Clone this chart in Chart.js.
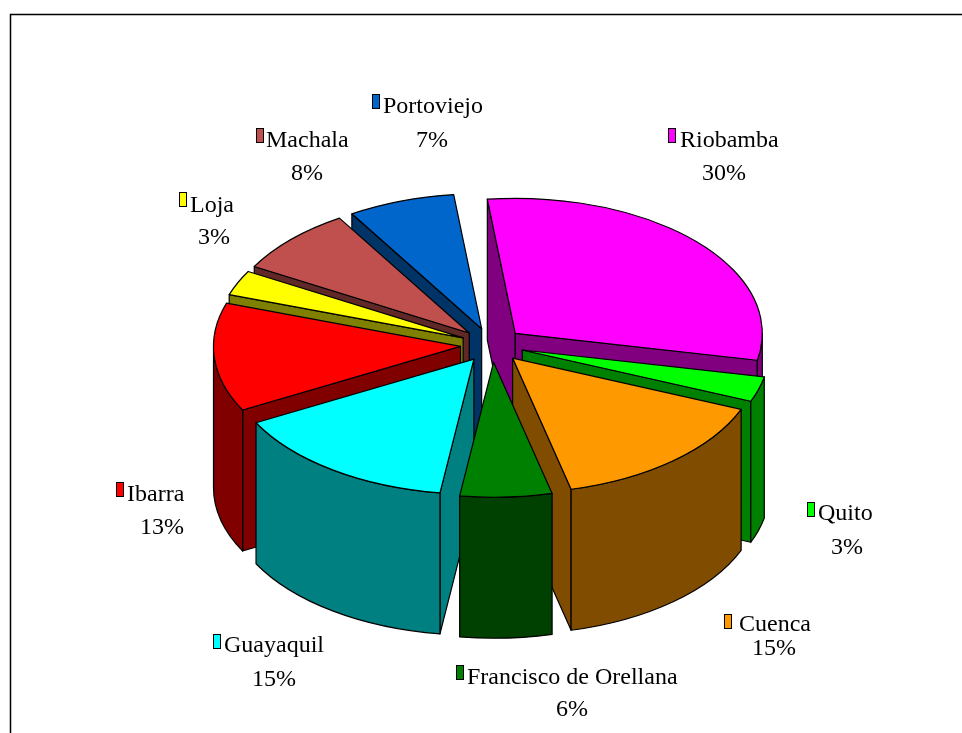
<!DOCTYPE html>
<html><head><meta charset="utf-8">
<style>html,body{margin:0;padding:0;background:#fff}canvas{display:block}</style>
<script src="https://cdn.jsdelivr.net/npm/chart.js@4"></script>
</head><body><canvas id="c" width="962" height="733"></canvas>
<script>
const categories = ["Riobamba","Quito","Cuenca","Francisco de Orellana","Guayaquil","Ibarra","Loja","Machala","Portoviejo"];
const values = [30,3,15,6,15,13,3,8,7];
const topColors = ["#FF00FF","#00FF00","#FF9900","#008000","#00FFFF","#FF0000","#FFFF00","#C0504D","#0066CC"];
const sideColors = ["#800080","#008000","#804C00","#004000","#008080","#800000","#808000","#602826","#003366"];

// label layout: key-left x, key-top y, text x, name baseline, percent centre x, percent baseline
const labelLayout = [
  [668,128,680,147,724,180],
  [807,502,818,520,847,554],
  [724,614,739,631,774,655],
  [456,665,467,684,572,716],
  [213,634,224,652,274,686],
  [116,482,127,501,162,534],
  [179,192,190,212,214,244],
  [256,128,266,147,307,180],
  [372,94,383,113,432,147]
];
const view = {cx:492, cy:345, rx:247, ry:135, depth:141};

const tilt3d = {
  id:'tilt3d',
  beforeDatasetDraw(chart,args){
    const ctx = chart.ctx, meta = args.meta;
    const items = meta.data.map((el,i)=>{
      const p = el.getProps(['startAngle','endAngle','outerRadius','x','y'],true);
      return {i,a0:p.startAngle,a1:p.endAngle,R:p.outerRadius,off:el.options.offset,mid:(p.startAngle+p.endAngle)/2};
    });
    // painter's order: back slices (top of the picture) first
    items.sort((a,b)=>Math.sin(a.mid)-Math.sin(b.mid));
    ctx.save();
    ctx.lineWidth = 1.2; ctx.strokeStyle = '#000'; ctx.lineJoin='round';
    const {rx,ry,depth} = view;
    for(const s of items){
      const e = s.off/s.R;
      const ax = view.cx + Math.cos(s.mid)*e*rx, ay = view.cy + Math.sin(s.mid)*e*ry;
      const pt = a=>[ax+Math.cos(a)*rx, ay+Math.sin(a)*ry];
      ctx.fillStyle = sideColors[s.i];
      // radial walls that face the viewer
      const walls = [];
      if(Math.cos(s.a0)<0) walls.push(s.a0);
      if(Math.cos(s.a1)>0) walls.push(s.a1);
      for(const a of walls){
        const q = pt(a);
        ctx.beginPath();
        ctx.moveTo(ax,ay); ctx.lineTo(q[0],q[1]); ctx.lineTo(q[0],q[1]+depth); ctx.lineTo(ax,ay+depth); ctx.closePath();
        ctx.fill(); ctx.stroke();
      }
      // outer curved wall (front half only)
      const lo = Math.max(s.a0,0), hi = Math.min(s.a1,Math.PI);
      if(hi>lo){
        ctx.beginPath();
        ctx.ellipse(ax,ay,rx,ry,0,lo,hi,false);
        ctx.ellipse(ax,ay+depth,rx,ry,0,hi,lo,true);
        ctx.closePath(); ctx.fill(); ctx.stroke();
      }
      // top face
      ctx.fillStyle = topColors[s.i];
      ctx.beginPath();
      ctx.moveTo(ax,ay);
      ctx.ellipse(ax,ay,rx,ry,0,s.a0,s.a1,false);
      ctx.closePath(); ctx.fill(); ctx.stroke();
    }
    ctx.restore();
    return false;
  },
  afterDraw(chart){
    const ctx = chart.ctx;
    const total = values.reduce((a,b)=>a+b,0);
    ctx.save();
    // frame
    ctx.strokeStyle='#000'; ctx.lineWidth=1.5;
    ctx.beginPath(); ctx.moveTo(10.5,733); ctx.lineTo(10.5,14.5); ctx.lineTo(962,14.5); ctx.stroke();
    ctx.font = '24px "Liberation Serif"';
    ctx.fillStyle='#000'; ctx.textBaseline='alphabetic';
    categories.forEach((name,i)=>{
      const [kx,ky,tx,ty,px,py] = labelLayout[i];
      ctx.fillStyle = topColors[i]; ctx.strokeStyle='#000'; ctx.lineWidth=1;
      ctx.fillRect(kx+.5,ky+.5,7,14); ctx.strokeRect(kx+.5,ky+.5,7,14);
      ctx.fillStyle='#000';
      ctx.textAlign='left'; ctx.fillText(name,tx,ty);
      ctx.textAlign='center'; ctx.fillText(Math.round(values[i]/total*100)+'%',px,py);
    });
    ctx.restore();
  }
};

new Chart(document.getElementById('c'),{
  type:'pie',
  data:{labels:categories,datasets:[{data:values,backgroundColor:topColors,offset:30,borderColor:'#000',borderWidth:1}]},
  options:{
    responsive:false,animation:false,rotation:-6.5,
    events:[],
    layout:{padding:{left:240,right:222,top:95,bottom:138}},
    plugins:{legend:{display:false},tooltip:{enabled:false},title:{display:false}}
  },
  plugins:[tilt3d]
});
</script></body></html>
